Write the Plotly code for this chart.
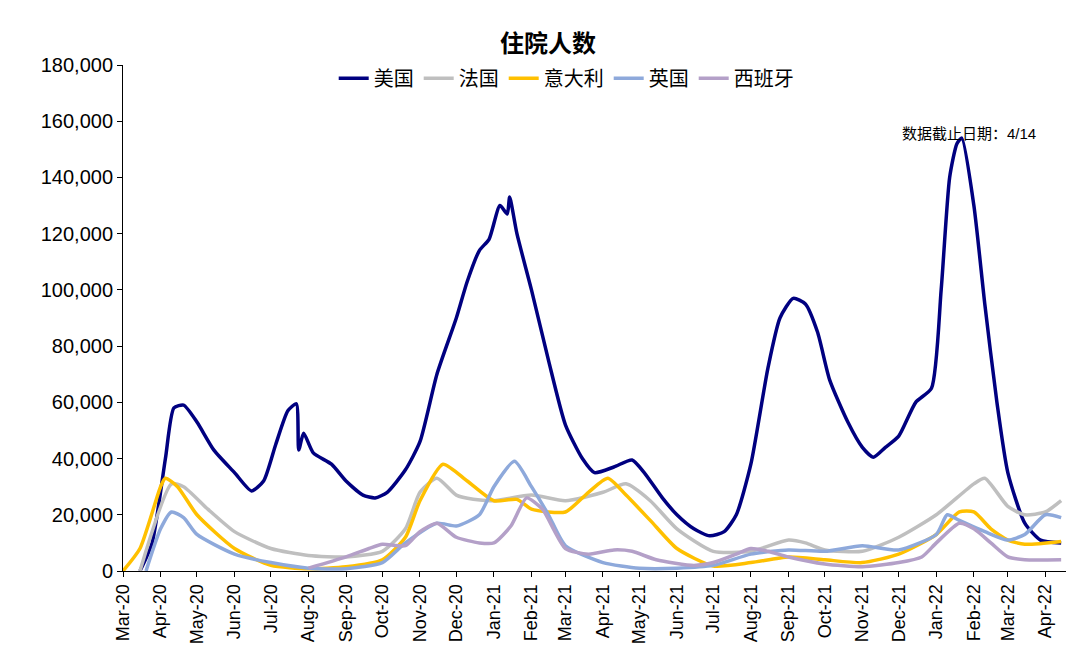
import pandas as pd
import plotly.graph_objects as go

# series: (date, hospitalised)
us_dates = ['2020-03-15','2020-03-25','2020-04-05','2020-04-12','2020-04-20','2020-05-01','2020-05-15','2020-06-01',
            '2020-06-15','2020-06-25','2020-07-05','2020-07-15','2020-07-22','2020-07-24','2020-07-28','2020-08-05',
            '2020-08-20','2020-09-01','2020-09-15','2020-09-25','2020-10-05','2020-10-20','2020-11-01','2020-11-15',
            '2020-12-01','2020-12-10','2020-12-20','2020-12-28','2021-01-06','2021-01-12','2021-01-14','2021-01-20',
            '2021-02-01','2021-02-15','2021-03-01','2021-03-15','2021-03-25','2021-04-10','2021-04-25','2021-05-05',
            '2021-05-20','2021-06-01','2021-06-15','2021-06-28','2021-07-10','2021-07-20','2021-08-01','2021-08-15',
            '2021-08-25','2021-09-05','2021-09-15','2021-09-25','2021-10-05','2021-10-20','2021-11-01','2021-11-10',
            '2021-11-20','2021-12-01','2021-12-15','2021-12-28','2022-01-05','2022-01-12','2022-01-18','2022-01-22',
            '2022-02-01','2022-02-10','2022-02-20','2022-03-01','2022-03-15','2022-03-28','2022-04-14']
us_vals = [0,10000,40000,58000,59000,53000,43000,35000,28500,32000,45000,57000,59500,43000,49000,42000,
           38000,32000,27000,26000,28000,36000,46000,70000,90000,103000,114000,118000,130000,127000,133000,120000,
           100000,75000,52000,40000,35000,37000,39500,35000,26000,20000,15000,12500,14000,20000,38000,72000,
           90000,97000,95000,85000,68000,53000,44000,40500,44000,48000,60000,65000,100000,140000,152000,154000,
           130000,95000,60000,35000,17000,11000,10000]

fr_dates = ['2020-03-15','2020-04-10','2020-04-20','2020-05-10','2020-06-01','2020-07-01','2020-08-01','2020-09-01',
            '2020-10-01','2020-10-20','2020-11-01','2020-11-15','2020-12-01','2020-12-15','2021-01-01','2021-02-01',
            '2021-03-01','2021-04-01','2021-04-20','2021-05-10','2021-06-01','2021-07-01','2021-08-01','2021-09-01',
            '2021-09-15','2021-10-01','2021-11-01','2021-12-01','2022-01-01','2022-02-01','2022-02-10','2022-03-01',
            '2022-03-15','2022-04-01','2022-04-14']
fr_vals = [0,31000,30000,22000,14000,8000,5500,5000,7000,15000,28000,33000,27000,25500,25000,27000,
           25000,28000,31000,25000,15000,7000,7000,11000,10000,7500,7000,12000,20000,31000,33000,23000,
           20000,21000,25000]

it_dates = ['2020-03-01','2020-03-15','2020-04-01','2020-04-05','2020-04-15','2020-05-01','2020-06-01','2020-07-01',
            '2020-08-01','2020-09-01','2020-10-01','2020-10-20','2020-11-01','2020-11-20','2020-12-10','2021-01-01',
            '2021-01-20','2021-02-01','2021-03-01','2021-03-20','2021-04-05','2021-04-20','2021-05-10','2021-06-01',
            '2021-07-01','2021-08-01','2021-09-01','2021-10-01','2021-11-01','2021-12-01','2022-01-01','2022-01-20',
            '2022-02-01','2022-02-15','2022-03-01','2022-03-15','2022-04-14']
it_vals = [0,8000,30000,33000,30000,20000,8000,2000,800,1500,4000,12000,25000,38000,32000,25000,
           25500,22000,21000,28000,33000,27000,18000,8000,1800,3000,5000,4000,3000,6000,13000,21000,
           21000,15000,11000,9500,10500]

uk_dates = ['2020-03-20','2020-04-01','2020-04-10','2020-04-20','2020-05-01','2020-06-01','2020-07-01','2020-08-01',
            '2020-09-01','2020-10-01','2020-10-20','2020-11-15','2020-12-01','2020-12-20','2021-01-01','2021-01-18',
            '2021-02-01','2021-02-15','2021-03-01','2021-04-01','2021-05-01','2021-06-01','2021-07-01','2021-08-01',
            '2021-09-01','2021-10-01','2021-11-01','2021-12-01','2022-01-01','2022-01-10','2022-01-20','2022-02-10',
            '2022-03-01','2022-03-15','2022-04-01','2022-04-14']
uk_vals = [0,15000,21000,19000,13000,6000,3000,1000,800,3000,10000,17000,16000,20000,30000,39000,
           30000,20000,9000,3000,1000,1000,2000,6000,7500,7000,9000,7500,13000,20000,18000,14000,
           11000,13000,20000,19000]

es_dates = ['2020-08-01','2020-09-01','2020-09-20','2020-10-01','2020-10-20','2020-11-01','2020-11-15','2020-12-01',
            '2020-12-20','2021-01-01','2021-01-15','2021-01-28','2021-02-10','2021-03-01','2021-03-20','2021-04-10',
            '2021-04-25','2021-05-15','2021-06-15','2021-07-01','2021-07-20','2021-08-01','2021-08-15','2021-09-01',
            '2021-10-01','2021-11-01','2021-12-01','2021-12-20','2022-01-01','2022-01-20','2022-02-01','2022-02-15',
            '2022-03-01','2022-03-15','2022-04-14']
es_vals = [1000,5000,8000,9500,9000,14000,17000,12000,10000,10000,16000,26000,22000,8000,6000,7500,
           7000,4000,2000,3000,6000,8000,7000,5000,2500,1500,3000,5000,10000,17000,15000,10000,
           5000,4000,4000]

series = [('美国', us_dates, us_vals, '#000080'),
          ('法国', fr_dates, fr_vals, '#BFBFBF'),
          ('意大利', it_dates, it_vals, '#FFC000'),
          ('英国', uk_dates, uk_vals, '#8EA9DB'),
          ('西班牙', es_dates, es_vals, '#B4A0C8')]

fig = go.Figure()
for name, d, v, c in series:
    fig.add_trace(go.Scatter(x=pd.to_datetime(d), y=v, name=name, mode='lines',
                             line=dict(color=c, width=3.5, shape='spline', smoothing=0.6)))

fig.update_layout(
    width=1080, height=663,
    font=dict(family='Arial, Liberation Sans, Noto Sans CJK SC', size=20, color='black'),
    title=dict(text='<b>住院人数</b>', x=0.5, xanchor='center', y=0.947, yanchor='middle',
               yref='container', font=dict(size=24)),
    legend=dict(orientation='h', x=0.47, xanchor='center', y=0.974, yanchor='middle', font=dict(size=20),
                bgcolor='rgba(0,0,0,0)'),
    margin=dict(l=115, r=22, t=57, b=100, autoexpand=False),
    plot_bgcolor='white', paper_bgcolor='white',
    showlegend=True,
)
fig.update_xaxes(range=['2020-03-01', '2022-04-18'], dtick='M1', tick0='2020-03-01', tickformat='%b-%y',
                 tickangle=-90, showline=True, linecolor='black', ticks='outside', tickcolor='black',
                 showgrid=False, tickfont=dict(size=18))
fig.update_yaxes(range=[0, 180000], dtick=20000, tickformat=',', showline=True, linecolor='black',
                 ticks='outside', tickcolor='black', showgrid=False, zeroline=False)
fig.add_annotation(text='数据截止日期：4/14', xref='paper', yref='paper', x=0.97, y=0.885,
                   xanchor='right', showarrow=False, font=dict(size=15))

fig.write_html('out.html')
